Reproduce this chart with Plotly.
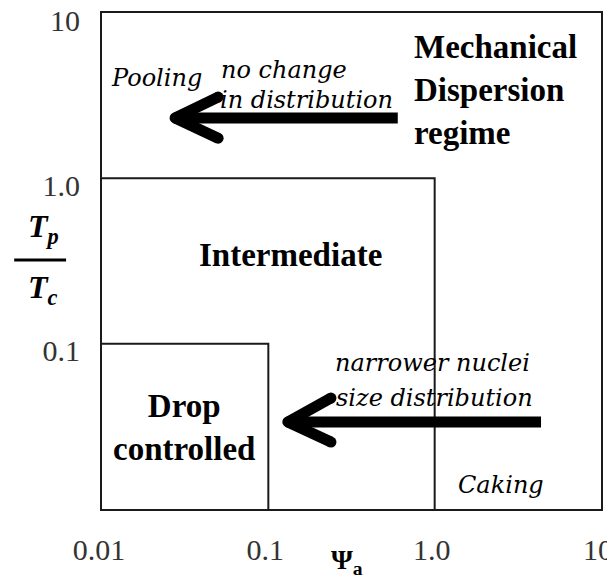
import math
import plotly.graph_objects as go

# ---------------- data ----------------
x_tick_vals = [0.01, 0.1, 1.0, 10]
x_tick_text = ["0.01", "0.1", "1.0", "10"]
y_tick_vals = [0.1, 1.0, 10]
y_tick_text = ["0.1", "1.0", "10"]

# regime boundaries (Psi_a, Tp/Tc)
intermediate_x = [0.01, 1.0, 1.0]
intermediate_y = [1.0, 1.0, 0.01]
drop_x = [0.01, 0.1, 0.1]
drop_y = [0.1, 0.1, 0.01]

# arrows: tip, tail, barb ends (data units)
top_arrow_shaft_x = [0.0275, 0.60]
top_arrow_shaft_y = [2.32, 2.32]
top_arrow_head_x = [0.0499, 0.0275, 0.0499]
top_arrow_head_y = [3.10, 2.32, 1.75]

bot_arrow_shaft_x = [0.131, 4.36]
bot_arrow_shaft_y = [0.0336, 0.0336]
bot_arrow_head_x = [0.238, 0.131, 0.238]
bot_arrow_head_y = [0.0469, 0.0336, 0.0254]

# region labels: (text, x, y, xanchor)
bold_labels = [
    ("Mechanical<br>Dispersion<br>regime", 0.732, 3.42, "left"),
    ("Intermediate", 0.135, 0.344, "center"),
    ("Drop<br>controlled", 0.0311, 0.0313, "center"),
]
italic_labels = [
    ("Pooling", 0.0214, 4.05, "center"),
    ("no change", 0.124, 4.52, "center"),
    ("in distribution", 0.169, 2.98, "center"),
    ("narrower nuclei", 0.977, 0.0764, "center"),
    ("size distribution", 0.991, 0.0469, "center"),
    ("Caking", 2.51, 0.0140, "center"),
]

SERIF = "Liberation Serif, Times New Roman, serif"
ITAL = "DejaVu Serif, serif"
INK = "#1a1a1a"

fig = go.Figure()

for xs, ys in [(intermediate_x, intermediate_y), (drop_x, drop_y)]:
    fig.add_trace(go.Scatter(x=xs, y=ys, mode="lines",
                             line=dict(color=INK, width=2),
                             hoverinfo="skip", showlegend=False))

for sx, sy, hx, hy in [
    (top_arrow_shaft_x, top_arrow_shaft_y, top_arrow_head_x, top_arrow_head_y),
    (bot_arrow_shaft_x, bot_arrow_shaft_y, bot_arrow_head_x, bot_arrow_head_y),
]:
    fig.add_trace(go.Scatter(x=sx, y=sy, mode="lines",
                             line=dict(color="black", width=11),
                             hoverinfo="skip", showlegend=False))
    fig.add_trace(go.Scatter(x=hx, y=hy, mode="lines+markers",
                             line=dict(color="black", width=11),
                             marker=dict(color="black", size=11),
                             hoverinfo="skip", showlegend=False))

for text, x, y, anchor in bold_labels:
    fig.add_annotation(x=math.log10(x), y=math.log10(y), xref="x", yref="y",
                       text="<b>" + text + "</b>", showarrow=False,
                       xanchor=anchor, yanchor="middle", align=anchor,
                       font=dict(family=SERIF, size=33, color="black"))

for text, x, y, anchor in italic_labels:
    fig.add_annotation(x=math.log10(x), y=math.log10(y), xref="x", yref="y",
                       text="<i>" + text + "</i>", showarrow=False,
                       xanchor=anchor, yanchor="middle",
                       font=dict(family=ITAL, size=24, color="black"))

# axis titles (fraction Tp/Tc and Psi_a)
fig.add_annotation(x=-0.118, y=0.565, xref="paper", yref="paper",
                   text="<b><i>T<sub>p</sub></i></b>", showarrow=False,
                   xanchor="center", yanchor="middle",
                   font=dict(family=SERIF, size=32, color="black"))
fig.add_annotation(x=-0.118, y=0.443, xref="paper", yref="paper",
                   text="<b><i>T<sub>c</sub></i></b>", showarrow=False,
                   xanchor="center", yanchor="middle",
                   font=dict(family=SERIF, size=32, color="black"))
fig.add_shape(type="line", xref="paper", yref="paper",
              x0=-0.176, x1=-0.072, y0=0.502, y1=0.502,
              line=dict(color="black", width=3))
fig.add_annotation(x=0.491, y=-0.105, xref="paper", yref="paper",
                   text="<b>Ψ<sub>a</sub></b>", showarrow=False,
                   xanchor="center", yanchor="middle",
                   font=dict(family=SERIF, size=28, color="black"))

axis_common = dict(type="log", range=[-2, 1], showgrid=False, zeroline=False,
                   showline=True, mirror=True, linecolor=INK, linewidth=2,
                   ticks="", automargin=False, ticklabeloverflow="allow",
                   tickfont=dict(family=SERIF, size=30, color="#333"))

fig.update_xaxes(tickvals=x_tick_vals, ticktext=x_tick_text,
                 ticklabelstandoff=13, ticklabelshift=-3, **axis_common)
fig.update_yaxes(tickvals=y_tick_vals, ticktext=y_tick_text,
                 ticklabelstandoff=14, ticklabelshift=7, **axis_common)

# page body has an 8px margin, so the figure is offset to compensate
fig.update_layout(width=615, height=583,
                  margin=dict(l=94, r=22, t=5, b=82),
                  plot_bgcolor="white", paper_bgcolor="white",
                  showlegend=False)

fig.write_html("out.html")
